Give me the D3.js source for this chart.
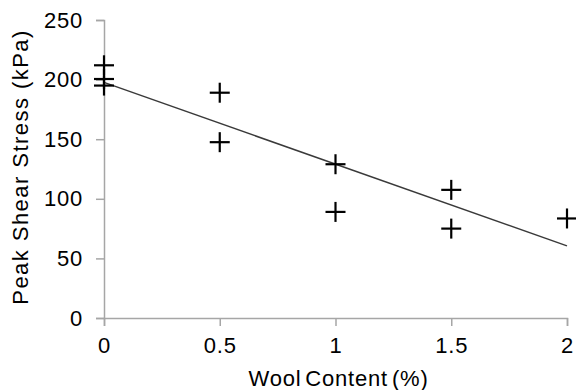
<!DOCTYPE html>
<html>
<head>
<meta charset="utf-8">
<script src="https://cdn.jsdelivr.net/npm/d3@7/dist/d3.min.js"></script>
<style>
  html, body { margin: 0; padding: 0; background: #fff; }
  svg { display: block; }
  text { font-family: "Liberation Sans", Arial, sans-serif; fill: #000; }
</style>
</head>
<body>
<svg id="chart" width="576" height="390"></svg>
<script>
// Wool content (%) and peak shear stress (kPa) for each test
const woolContent = [0, 0, 0, 0.5, 0.5, 1, 1, 1.5, 1.5, 2];
const peakShear   = [212, 200.5, 195, 189, 147.5, 129, 89, 107.5, 75, 83.5];
const xTicks = [0, 0.5, 1, 1.5, 2];
const yTicks = [0, 50, 100, 150, 200, 250];

const svg = d3.select("#chart");
const margin = { left: 104, right: 9, top: 20, bottom: 72 };
const W = 576, H = 390;
const fontSize = 22;

const x = d3.scaleLinear().domain([0, 2]).range([margin.left, W - margin.right]);
const y = d3.scaleLinear().domain([0, 250]).range([H - margin.bottom, margin.top]);

const axisColor = "#a6a6a6";

// Y axis
const yAxis = svg.append("g")
  .attr("transform", `translate(${margin.left},0)`)
  .call(d3.axisLeft(y).tickValues(yTicks).tickSize(8).tickPadding(13).tickFormat(d3.format("d")));
// X axis
const xAxis = svg.append("g")
  .attr("transform", `translate(0,${y(0)})`)
  .call(d3.axisBottom(x).tickValues(xTicks).tickSize(8).tickPadding(11.5).tickFormat(d => String(d)));

[yAxis, xAxis].forEach(g => {
  g.select(".domain").attr("stroke", axisColor).attr("stroke-width", 1.5);
  g.selectAll(".tick line").attr("stroke", axisColor).attr("stroke-width", 1.5);
  g.selectAll(".tick text")
    .attr("font-family", "Liberation Sans, Arial, sans-serif")
    .attr("font-size", fontSize)
    .attr("letter-spacing", 0.8)
    .attr("fill", "#000");
});

// Least-squares trend line through the measurements
const n = woolContent.length;
const mx = d3.mean(woolContent), my = d3.mean(peakShear);
let sxy = 0, sxx = 0;
for (let i = 0; i < n; i++) {
  sxy += (woolContent[i] - mx) * (peakShear[i] - my);
  sxx += (woolContent[i] - mx) ** 2;
}
const slope = sxy / sxx, intercept = my - slope * mx;
const trend = [0, 2].map(v => [v, intercept + slope * v]);

svg.append("path")
  .datum(trend)
  .attr("fill", "none")
  .attr("stroke", "#3a3a3a")
  .attr("stroke-width", 1.5)
  .attr("d", d3.line().x(d => x(d[0])).y(d => y(d[1])));

// Cross markers
const half = 10;
const pts = svg.append("g").selectAll("g")
  .data(woolContent.map((w, i) => [w, peakShear[i]]))
  .join("g")
  .attr("transform", d => `translate(${x(d[0])},${y(d[1])})`);
pts.append("line").attr("x1", -half).attr("x2", half).attr("y1", 0).attr("y2", 0)
  .attr("stroke", "#000").attr("stroke-width", 2.2);
pts.append("line").attr("x1", 0).attr("x2", 0).attr("y1", -half).attr("y2", half)
  .attr("stroke", "#000").attr("stroke-width", 2.2);

// Axis titles
svg.append("text")
  .attr("x", 338.5).attr("y", 385.5)
  .attr("text-anchor", "middle")
  .attr("font-size", fontSize)
  .attr("letter-spacing", 0.8)
  .attr("word-spacing", -3)
  .text("Wool Content (%)");

svg.append("text")
  .attr("transform", `translate(28,167) rotate(-90)`)
  .attr("text-anchor", "middle")
  .attr("font-size", fontSize)
  .attr("letter-spacing", 1.45)
  .text("Peak Shear Stress (kPa)");
</script>
</body>
</html>
